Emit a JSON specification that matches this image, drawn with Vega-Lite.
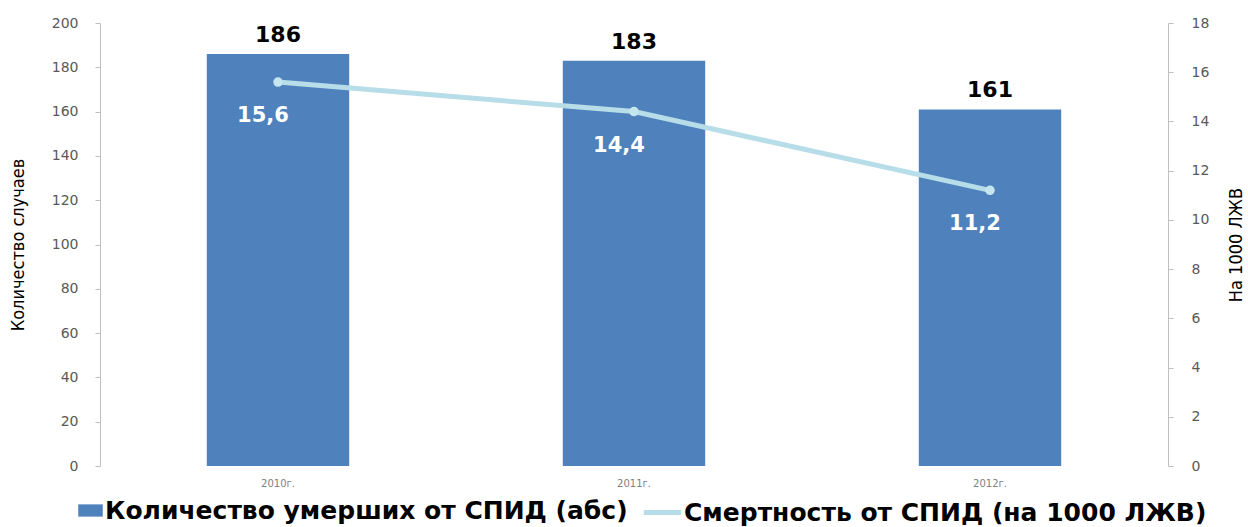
{
  "$schema": "https://vega.github.io/schema/vega-lite/v6.json",
  "width": 1068,
  "height": 443,
  "autosize": "none",
  "padding": {"left": 100, "top": 23, "right": 80, "bottom": 61},
  "background": "white",
  "data": {
    "values": [
      {"year": "2010г.", "deaths": 186, "rate": 15.6},
      {"year": "2011г.", "deaths": 183, "rate": 14.4},
      {"year": "2012г.", "deaths": 161, "rate": 11.2}
    ]
  },
  "encoding": {
    "x": {
      "field": "year",
      "type": "nominal",
      "sort": null,
      "scale": {"paddingInner": 0.6, "paddingOuter": 0.3},
      "axis": {
        "title": null,
        "labelAngle": 0,
        "domain": false,
        "ticks": false,
        "labelPadding": 12,
        "labelFontSize": 10,
        "labelColor": "#7f7f7f"
      }
    }
  },
  "layer": [
    {
      "layer": [
        {
          "mark": {"type": "bar", "color": "#4f81bd"},
          "encoding": {
            "y": {
              "field": "deaths",
              "type": "quantitative",
              "scale": {"domain": [0, 200], "nice": false},
              "axis": {
                "title": "Количество случаев",
                "values": [0, 20, 40, 60, 80, 100, 120, 140, 160, 180, 200],
                "labelPadding": 17,
                "titleFont": "Liberation Sans Narrow, DejaVu Sans Condensed, sans-serif",
                "titleFontSize": 18,
                "titleFontWeight": "normal",
                "titleColor": "#000000",
                "titlePadding": 24
              }
            },
            "fill": {
              "datum": "Количество умерших от СПИД (абс)",
              "scale": {"range": ["#4f81bd"]},
              "legend": {
                "title": null,
                "orient": "none",
                "legendX": -22,
                "legendY": 475,
                "symbolType": "M-1,-0.5H1V0.5H-1Z",
                "symbolSize": 600,
                "symbolStrokeWidth": 0,
                "labelOffset": 2
              }
            }
          }
        },
        {
          "mark": {
            "type": "text",
            "baseline": "bottom",
            "dy": -7,
            "font": "DejaVu Sans",
            "fontWeight": "bold",
            "fontSize": 22,
            "color": "#000000"
          },
          "encoding": {
            "y": {"field": "deaths", "type": "quantitative"},
            "text": {"field": "deaths", "type": "quantitative"}
          }
        }
      ]
    },
    {
      "layer": [
        {
          "mark": {"type": "line", "strokeWidth": 5, "strokeCap": "round"},
          "encoding": {
            "y": {
              "field": "rate",
              "type": "quantitative",
              "scale": {"domain": [0, 18], "nice": false},
              "axis": {
                "orient": "right",
                "title": "На 1000 ЛЖВ",
                "values": [0, 2, 4, 6, 8, 10, 12, 14, 16, 18],
                "labelPadding": 18,
                "titleAngle": 270,
                "titleBaseline": "top",
                "titleFont": "Liberation Sans Narrow, DejaVu Sans Condensed, sans-serif",
                "titleFontSize": 18,
                "titleFontWeight": "normal",
                "titleColor": "#000000",
                "titlePadding": 19
              }
            },
            "stroke": {
              "datum": "Смертность от СПИД (на 1000 ЛЖВ)",
              "scale": {"range": ["#b7dde8"]},
              "legend": {
                "title": null,
                "orient": "none",
                "legendX": 541,
                "legendY": 468,
                "symbolType": "stroke",
                "symbolSize": 1400,
                "symbolStrokeWidth": 5,
                "labelOffset": 0
              }
            }
          }
        },
        {
          "mark": {"type": "point", "filled": true, "size": 90, "color": "#c6e6ef", "opacity": 1},
          "encoding": {
            "y": {"field": "rate", "type": "quantitative"}
          }
        },
        {
          "mark": {
            "type": "text",
            "dx": -15,
            "dy": 34,
            "font": "DejaVu Sans",
            "fontWeight": "bold",
            "fontSize": 21,
            "color": "#ffffff"
          },
          "encoding": {
            "y": {"field": "rate", "type": "quantitative"},
            "text": {"field": "rate", "type": "quantitative", "format": ".1f"}
          }
        }
      ]
    }
  ],
  "resolve": {"scale": {"y": "independent"}},
  "config": {
    "locale": {
      "number": {"decimal": ",", "thousands": " ", "grouping": [3], "currency": ["", " ₽"]}
    },
    "view": {"stroke": null},
    "axis": {
      "grid": false,
      "labelFont": "DejaVu Sans",
      "labelFontSize": 14,
      "labelColor": "#595959",
      "domainColor": "#bfbfbf",
      "tickColor": "#bfbfbf",
      "tickSize": 5
    },
    "legend": {
      "padding": 0,
      "labelFont": "DejaVu Sans",
      "labelFontWeight": "bold",
      "labelFontSize": 25,
      "labelColor": "#000000",
      "labelLimit": 800
    }
  }
}
